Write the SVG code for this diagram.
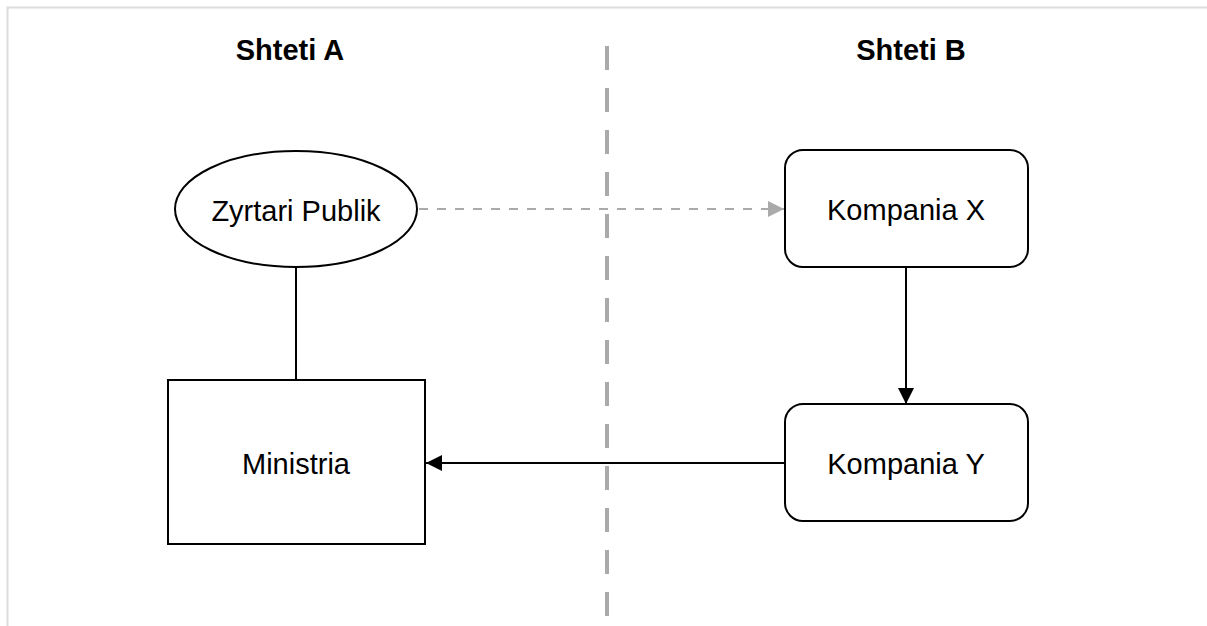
<svg xmlns="http://www.w3.org/2000/svg" width="1207" height="626" viewBox="0 0 1207 626">
<style>
.node{fill:#fff;stroke:#000;stroke-width:2}
.lbl{font-family:"Liberation Sans",Arial,sans-serif;font-size:29px;fill:#000;text-anchor:middle;dominant-baseline:central}
.title{font-family:"Liberation Sans",Arial,sans-serif;font-size:29px;font-weight:bold;fill:#000;text-anchor:middle}
.edge{fill:none;stroke:#000;stroke-width:2}
.dash{fill:none;stroke:#aaa;stroke-width:2;stroke-dasharray:9 9}
</style>
<defs>
<marker id="ab" viewBox="0 0 16 16" refX="16" refY="8" markerWidth="16" markerHeight="16" markerUnits="userSpaceOnUse" orient="auto">
<path d="M0,0 L16,8 L0,16 Z" fill="#000"/>
</marker>
<marker id="ag" viewBox="0 0 16 16" refX="16" refY="8" markerWidth="16" markerHeight="16" markerUnits="userSpaceOnUse" orient="auto">
<path d="M0,0 L16,8 L0,16 Z" fill="#aaa"/>
</marker>
</defs>
<rect width="1207" height="626" fill="#fff"/>
<rect x="7.5" y="7.5" width="1220" height="640" fill="none" stroke="#dcdcdc" stroke-width="2"/>
<line x1="607" y1="46" x2="607" y2="618" stroke="#aaa" stroke-width="4" stroke-dasharray="24 18"/>
<text class="title" x="290" y="60">Shteti A</text>
<text class="title" x="911" y="60">Shteti B</text>
<g id="connectors">
<line class="dash" x1="419" y1="209" x2="784" y2="209" marker-end="url(#ag)"/>
<line class="edge" x1="296" y1="268" x2="296" y2="380"/>
<line class="edge" x1="906" y1="267" x2="906" y2="404" marker-end="url(#ab)"/>
<line class="edge" x1="785" y1="463" x2="426" y2="463" marker-end="url(#ab)"/>
</g>
<g id="zyrtari">
<ellipse class="node" cx="296" cy="209" rx="121" ry="58"/>
<text class="lbl" x="296" y="211">Zyrtari Publik</text>
</g>
<g id="ministria">
<rect class="node" x="168" y="380" width="257" height="164"/>
<text class="lbl" x="296" y="464">Ministria</text>
</g>
<g id="kompaniaX">
<rect class="node" x="785" y="150" width="243" height="117" rx="18"/>
<text class="lbl" x="906" y="210">Kompania X</text>
</g>
<g id="kompaniaY">
<rect class="node" x="785" y="404" width="243" height="117" rx="18"/>
<text class="lbl" x="906" y="464">Kompania Y</text>
</g>
</svg>
